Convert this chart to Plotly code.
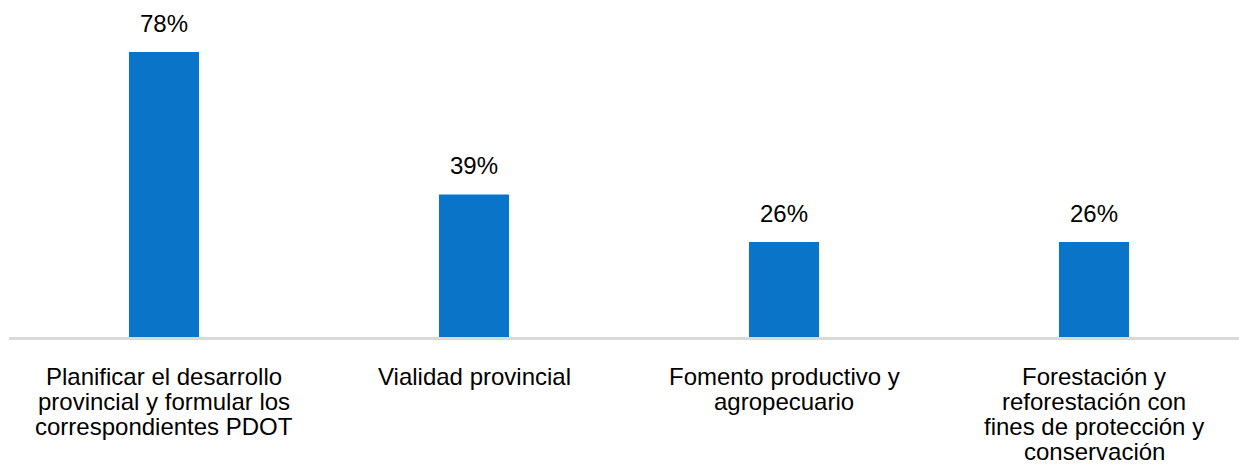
import plotly.graph_objects as go

categories = [
    "Planificar el desarrollo provincial y formular los correspondientes PDOT",
    "Vialidad provincial",
    "Fomento productivo y agropecuario",
    "Forestación y reforestación con fines de protección y conservación",
]
label_lines = [
    ["Planificar el desarrollo", "provincial y formular los", "correspondientes PDOT"],
    ["Vialidad provincial"],
    ["Fomento productivo y", "agropecuario"],
    ["Forestación y", "reforestación con", "fines de protección y", "conservación"],
]
values = [78, 39, 26, 26]
value_labels = ["78%", "39%", "26%", "26%"]

FONT = "Liberation Sans, Arial, Helvetica, sans-serif"
BAR_COLOR = "#0974C8"

xs = list(range(len(categories)))

fig = go.Figure(
    go.Bar(
        x=xs,
        y=values,
        width=0.226,
        marker=dict(color=BAR_COLOR, line=dict(width=0)),
        hoverinfo="skip",
    )
)

annotations = []
for i, (v, t) in enumerate(zip(values, value_labels)):
    annotations.append(dict(
        x=i, y=v, xref="x", yref="y", text=t, showarrow=False,
        yanchor="bottom", yshift=14, borderpad=0,
        font=dict(family=FONT, size=24, color="#000000"),
    ))
for i, lines in enumerate(label_lines):
    for j, ln in enumerate(lines):
        annotations.append(dict(
            x=i, y=0, xref="x", yref="y", text=ln, showarrow=False,
            yanchor="top", yshift=-24.5 - 25 * j, borderpad=0,
            font=dict(family=FONT, size=24, color="#000000"),
        ))

fig.update_layout(
    width=1239, height=465,
    margin=dict(l=9, r=0, t=20, b=128),
    paper_bgcolor="white", plot_bgcolor="white",
    showlegend=False,
    annotations=annotations,
    xaxis=dict(
        range=[-0.5, -0.5 + 1230 / 310], showticklabels=False, ticks="",
        showgrid=False, zeroline=False, showline=True,
        linecolor="#D9D9D9", linewidth=2.5, fixedrange=True,
    ),
    yaxis=dict(
        range=[0, 317 / 3.655], visible=False, showgrid=False,
        zeroline=False, fixedrange=True,
    ),
)

fig.write_html("out.html")
